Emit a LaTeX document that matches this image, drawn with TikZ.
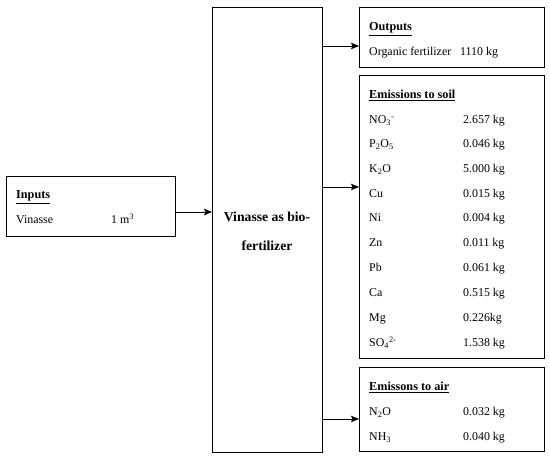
\documentclass[tikz,border=0pt]{standalone}
\usepackage{fontspec}
\setmainfont{Liberation Serif}
\usetikzlibrary{arrows.meta}
\tikzset{>={Stealth[length=8pt,width=6.5pt,inset=1.5pt]}}
\tikzset{
  stagebox/.style={draw, line width=0.9pt, anchor=north west, inner sep=0pt, outer sep=0pt},
  rowtext/.style={anchor=base west, inner sep=0pt, font=\fontsize{11.9}{14}\selectfont},
  headtext/.style={anchor=base west, inner sep=0pt, font=\fontsize{12.2}{14}\selectfont\bfseries},
  flow/.style={->, line width=0.9pt}
}

\begin{document}
\begin{tikzpicture}[x=1pt, y=-1pt]
\useasboundingbox (0, 0) rectangle (550, 457);
% boxes
\node[stagebox, minimum width=169pt, minimum height=60pt] (inbox) at (6, 176) {};
\node[stagebox, minimum width=110pt, minimum height=445pt] (process) at (212, 7) {};
\node[stagebox, minimum width=185pt, minimum height=60pt] (outbox) at (359, 7) {};
\node[stagebox, minimum width=185pt, minimum height=283pt] (soilbox) at (359, 75) {};
\node[stagebox, minimum width=185pt, minimum height=84pt] (airbox) at (359, 367) {};
\node[align=center, font=\fontsize{13.7}{29}\selectfont\bfseries] (proctext) at (267, 231.5) {Vinasse as bio-\\fertilizer};
% inputs
\node[headtext] (inhead) at (16, 199) {\underline{Inputs}};
\node[rowtext] (vin) at (16, 224) {Vinasse};
\node[rowtext] (vinval) at (111, 224) {1 m\textsuperscript{3}};
% outputs
\node[headtext] (outhead) at (369, 31) {\underline{Outputs}};
\node[rowtext] (orgfert) at (369, 56) {Organic fertilizer};
\node[rowtext] (orgval) at (460, 56) {1110 kg};
% emissions to soil
\node[headtext] (soilhead) at (369, 99) {\underline{Emissions to soil}};
\node[rowtext] (no3) at (369, 124) {NO\textsubscript{3}\textsuperscript{-}};
\node[rowtext] (p2o5) at (369, 148) {P\textsubscript{2}O\textsubscript{5}};
\node[rowtext] (k2o) at (369, 173) {K\textsubscript{2}O};
\node[rowtext] (cu) at (369, 198) {Cu};
\node[rowtext] (ni) at (369, 222) {Ni};
\node[rowtext] (zn) at (369, 247) {Zn};
\node[rowtext] (pb) at (369, 272) {Pb};
\node[rowtext] (ca) at (369, 297) {Ca};
\node[rowtext] (mg) at (369, 322) {Mg};
\node[rowtext] (so4) at (369, 347) {SO\textsubscript{4}\textsuperscript{2-}};
\node[rowtext] (no3val) at (463, 124) {2.657 kg};
\node[rowtext] (p2o5val) at (463, 148) {0.046 kg};
\node[rowtext] (k2oval) at (463, 173) {5.000 kg};
\node[rowtext] (cuval) at (463, 198) {0.015 kg};
\node[rowtext] (nival) at (463, 222) {0.004 kg};
\node[rowtext] (znval) at (463, 247) {0.011 kg};
\node[rowtext] (pbval) at (463, 272) {0.061 kg};
\node[rowtext] (caval) at (463, 297) {0.515 kg};
\node[rowtext] (mgval) at (463, 322) {0.226kg};
\node[rowtext] (so4val) at (463, 347) {1.538 kg};
% emissions to air
\node[headtext] (airhead) at (369, 391) {\underline{Emissons to air}};
\node[rowtext] (n2o) at (369, 416) {N\textsubscript{2}O};
\node[rowtext] (nh3) at (369, 441) {NH\textsubscript{3}};
\node[rowtext] (n2oval) at (463, 416) {0.032 kg};
\node[rowtext] (nh3val) at (463, 441) {0.040 kg};
% arrows
\draw[flow] (inbox.east |- 0, 212) -- (process.west |- 0, 212);
\draw[flow] (process.east |- 0, 46) -- (outbox.west |- 0, 46);
\draw[flow] (process.east |- 0, 187) -- (soilbox.west |- 0, 187);
\draw[flow] (process.east |- 0, 419) -- (airbox.west |- 0, 419);
\end{tikzpicture}
\end{document}
